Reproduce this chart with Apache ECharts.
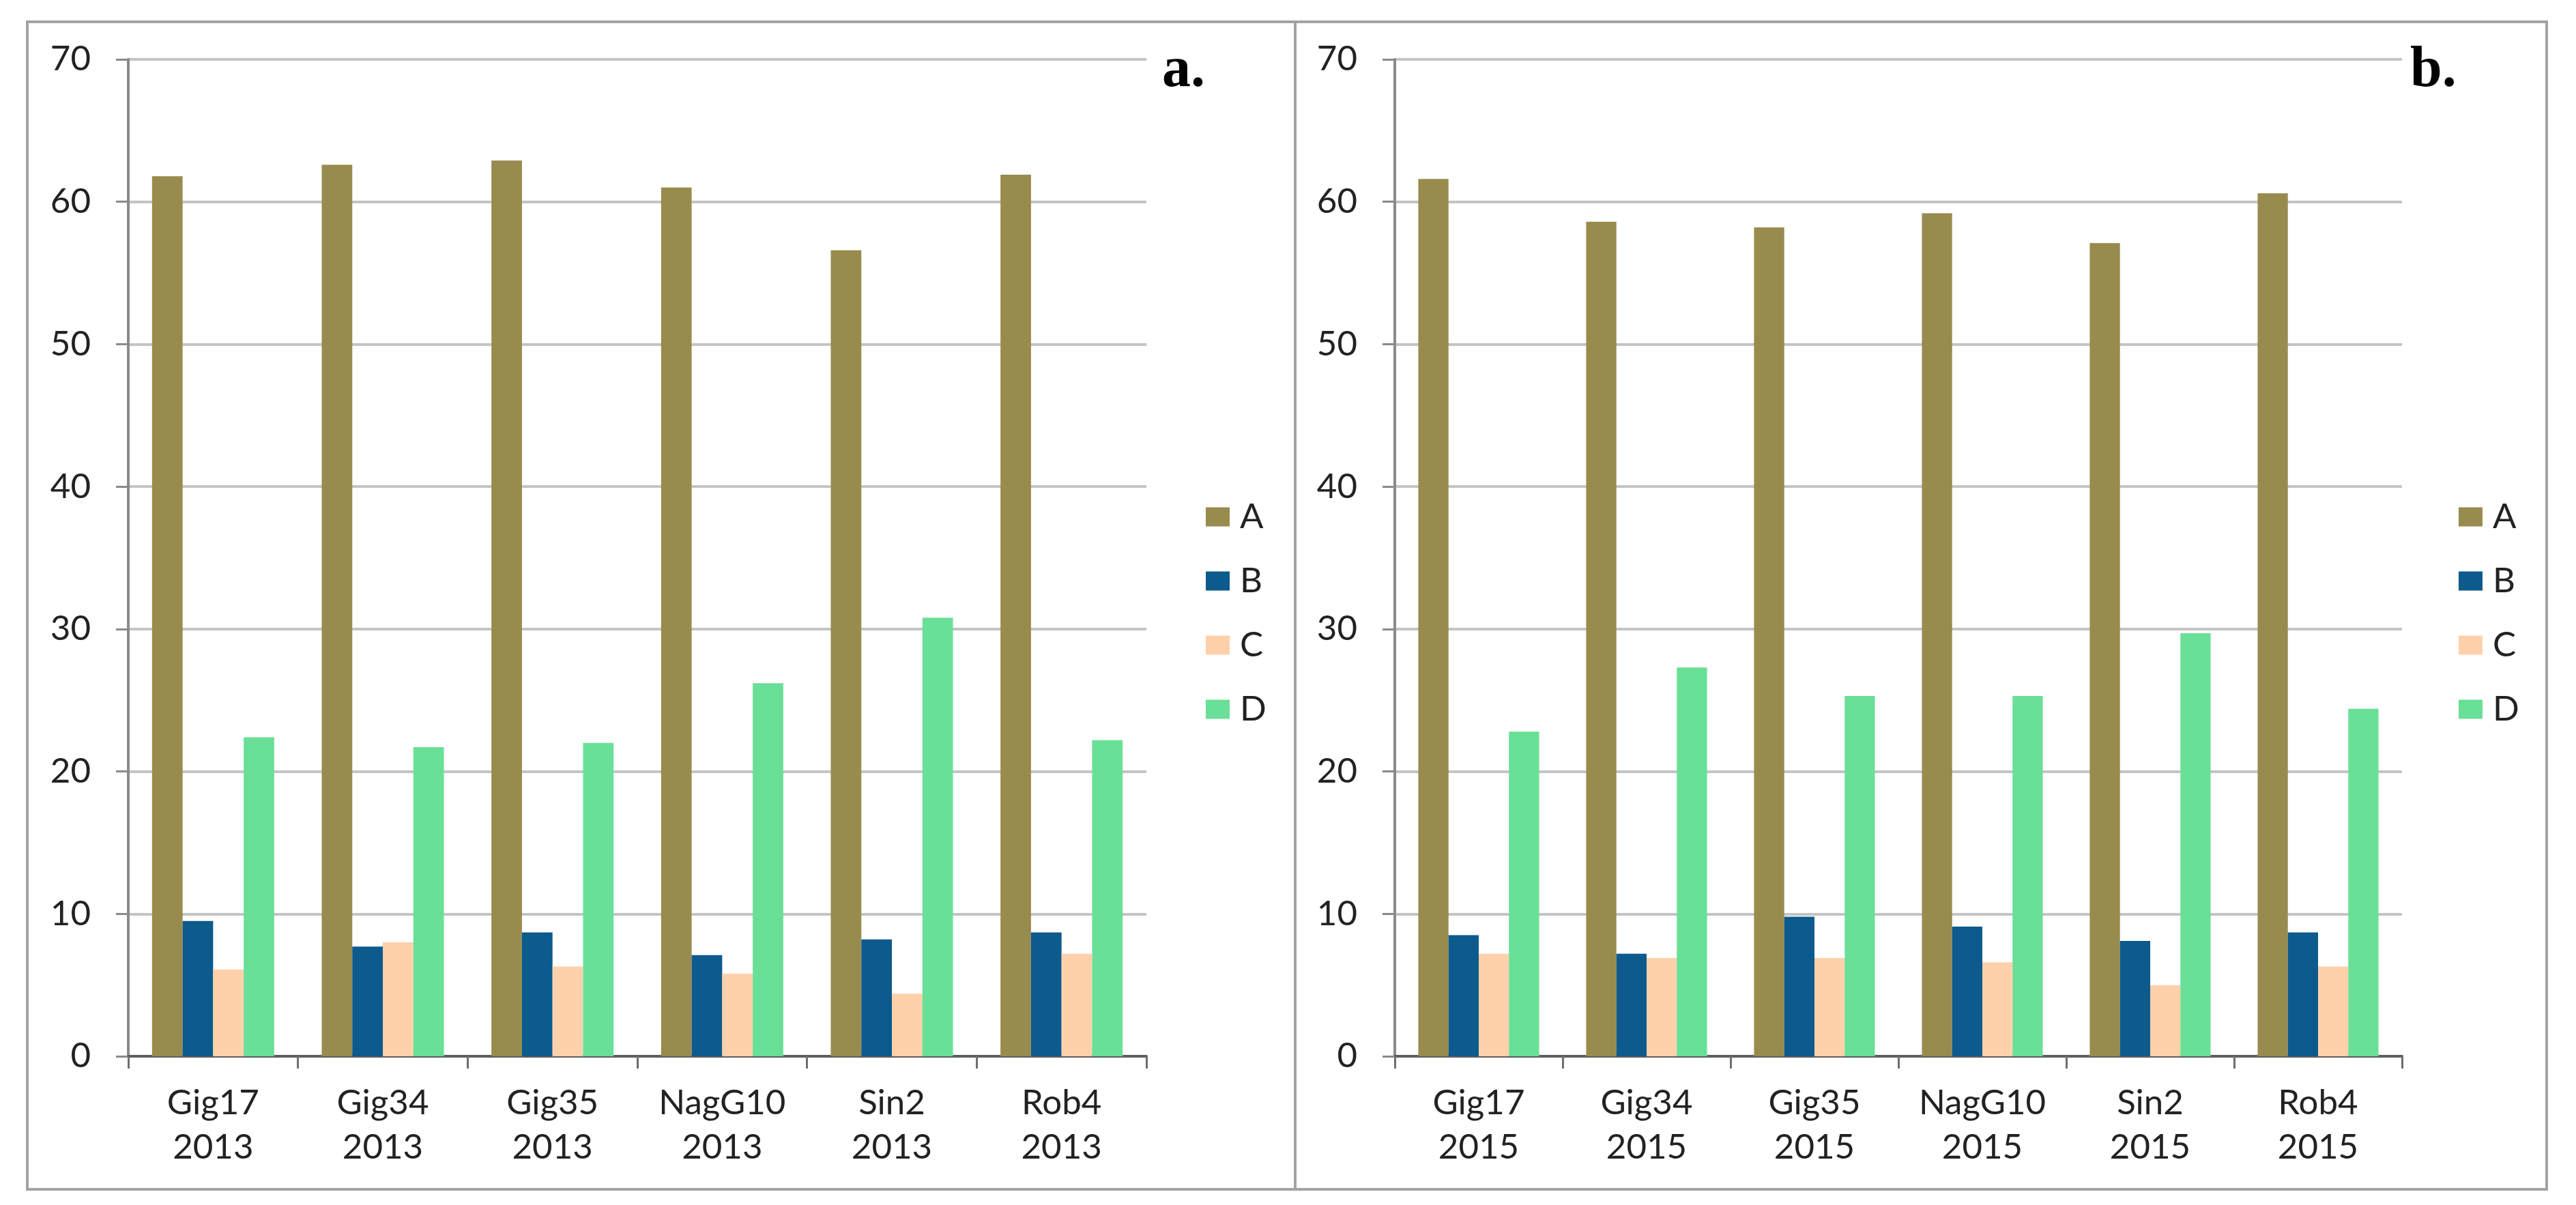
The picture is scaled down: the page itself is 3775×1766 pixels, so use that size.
<!DOCTYPE html>
<html>
<head>
<meta charset="utf-8">
<title>A B C D 2013 / 2015</title>
<script src="https://cdn.jsdelivr.net/npm/echarts@6/dist/echarts.min.js"></script>
<style>
  html, body { margin: 0; padding: 0; background: #fff; }
  #chart { width: 3775px; height: 1766px; }
</style>
</head>
<body>
<div id="chart"></div>
<script>
// categories and values
const sites = ['Gig17', 'Gig34', 'Gig35', 'NagG10', 'Sin2', 'Rob4'];
const years = ['2013', '2015'];
const seriesNames = ['A', 'B', 'C', 'D'];
const panelLetters = ['a.', 'b.'];

const a2013 = [61.8, 62.6, 62.9, 61.0, 56.6, 61.9];
const b2013 = [9.5, 7.7, 8.7, 7.1, 8.2, 8.7];
const c2013 = [6.1, 8.0, 6.3, 5.8, 4.4, 7.2];
const d2013 = [22.4, 21.7, 22.0, 26.2, 30.8, 22.2];

const a2015 = [61.6, 58.6, 58.2, 59.2, 57.1, 60.6];
const b2015 = [8.5, 7.2, 9.8, 9.1, 8.1, 8.7];
const c2015 = [7.2, 6.9, 6.9, 6.6, 5.0, 6.3];
const d2015 = [22.8, 27.3, 25.3, 25.3, 29.7, 24.4];

const yMin = 0, yMax = 70, yStep = 10;

const colors = ['#988B4E', '#0D5A8D', '#FFD1AB', '#6ADF97'];
const fontFamily = 'Lato, "Open Sans", sans-serif';
const textColor = '#222';

const chart = echarts.init(document.getElementById('chart'));

// one panel per year
const panels = [
  { left: 188, right: 3775 - 1680, legendLeft: 1762, letterX: 1703, values: [a2013, b2013, c2013, d2013] },
  { left: 2044, right: 3775 - 3520, legendLeft: 3598, letterX: 3532, values: [a2015, b2015, c2015, d2015] }
];

const grids = [], xAxes = [], yAxes = [], legends = [], series = [], graphics = [];

panels.forEach(function (p, i) {
  grids.push({ left: p.left, right: p.right, top: 87, bottom: 218 });

  xAxes.push({
    type: 'category',
    gridIndex: i,
    data: sites.map(s => s + '\n' + years[i]),
    axisLine: { lineStyle: { color: '#5e5e5e', width: 4 } },
    axisTick: { show: true, length: 18, lineStyle: { color: '#6e6e6e', width: 3 } },
    axisLabel: {
      margin: 36,
      fontFamily: fontFamily,
      fontSize: 51,
      lineHeight: 65,
      color: textColor
    }
  });

  yAxes.push({
    type: 'value',
    gridIndex: i,
    min: yMin,
    max: yMax,
    interval: yStep,
    axisLine: { show: true, lineStyle: { color: '#8a8a8a', width: 4 } },
    axisTick: { show: true, length: 18, lineStyle: { color: '#8a8a8a', width: 3 } },
    axisLabel: { margin: 55, fontFamily: fontFamily, fontSize: 51, color: textColor },
    splitLine: { lineStyle: { color: '#C4C4C4', width: 4 } }
  });

  legends.push({
    orient: 'vertical',
    left: p.legendLeft,
    top: 727,
    data: seriesNames,
    icon: 'rect',
    itemWidth: 35,
    itemHeight: 28,
    itemGap: 43,
    selectedMode: false,
    textStyle: {
      fontFamily: fontFamily,
      fontSize: 51,
      color: textColor,
      padding: [0, 0, 0, 10]
    }
  });

  seriesNames.forEach(function (name, k) {
    series.push({
      name: name,
      type: 'bar',
      xAxisIndex: i,
      yAxisIndex: i,
      data: p.values[k],
      barGap: '0%',
      barCategoryGap: '28%',
      itemStyle: { color: colors[k] }
    });
  });

  graphics.push({
    type: 'text',
    left: p.letterX,
    top: 62,
    style: {
      text: panelLetters[i],
      font: 'bold 84px "Liberation Serif", "DejaVu Serif", serif',
      fill: '#000'
    }
  });
});

// frame round both panels and the divider between them
graphics.push({
  type: 'rect',
  shape: { x: 40, y: 32, width: 3692, height: 1711 },
  style: { fill: 'none', stroke: '#A3A3A3', lineWidth: 4 },
  silent: true
});
graphics.push({
  type: 'line',
  shape: { x1: 1898, y1: 32, x2: 1898, y2: 1743 },
  style: { stroke: '#A3A3A3', lineWidth: 4 },
  silent: true
});

chart.setOption({
  backgroundColor: '#fff',
  animation: false,
  color: colors,
  grid: grids,
  xAxis: xAxes,
  yAxis: yAxes,
  legend: legends,
  series: series,
  graphic: graphics
});

window.addEventListener('resize', function () {
  chart.resize();
});
</script>
</body>
</html>
